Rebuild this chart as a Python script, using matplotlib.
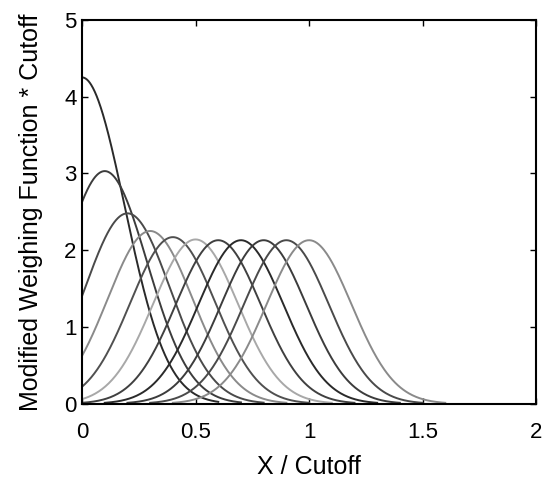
import numpy as np
import matplotlib.pyplot as plt

plt.rcParams['font.family'] = ['Liberation Sans', 'DejaVu Sans']

# filter centres (X / Cutoff) and the peak height of each weighting curve
centres = [0.0, 0.1, 0.2, 0.3, 0.4, 0.5, 0.6, 0.7, 0.8, 0.9, 1.0]
peaks = [4.25, 3.03, 2.48, 2.25, 2.17, 2.14, 2.13, 2.13, 2.13, 2.13, 2.13]
# gaussian width in cutoff units
sigma = 0.1874

# line shades, cycling like the default colour order printed in grey
shades = ['#2a2a2a', '#3c3c3c', '#4a4a4a', '#8a8a8a', '#505050',
          '#a8a8a8', '#404040']

fig, ax = plt.subplots(figsize=(5.47, 4.83), dpi=100)
fig.subplots_adjust(left=0.150, right=0.980, bottom=0.164, top=0.959)

for i, (c, p) in enumerate(zip(centres, peaks)):
    x = np.linspace(max(0.0, c - 0.6), c + 0.6, 300)
    y = p * np.exp(-0.5 * ((x - c) / sigma) ** 2)
    ax.plot(x, y, color=shades[i % len(shades)], lw=1.4)

ax.set_xlim(0, 2)
ax.set_ylim(0, 5)
ax.set_xticks([0, 0.5, 1, 1.5, 2])
ax.set_xticklabels(['0', '0.5', '1', '1.5', '2'])
ax.set_yticks([0, 1, 2, 3, 4, 5])
ax.tick_params(direction='in', length=4, width=1, labelsize=16,
               top=True, right=True)
ax.tick_params(axis='x', pad=13)
ax.tick_params(axis='y', pad=4)
for s in ax.spines.values():
    s.set_linewidth(1.5)
ax.set_xlabel('X / Cutoff', fontsize=18, labelpad=9)
ax.set_ylabel('Modified Weighing Function * Cutoff', fontsize=18, labelpad=15)

plt.savefig('out.png', dpi=100)
